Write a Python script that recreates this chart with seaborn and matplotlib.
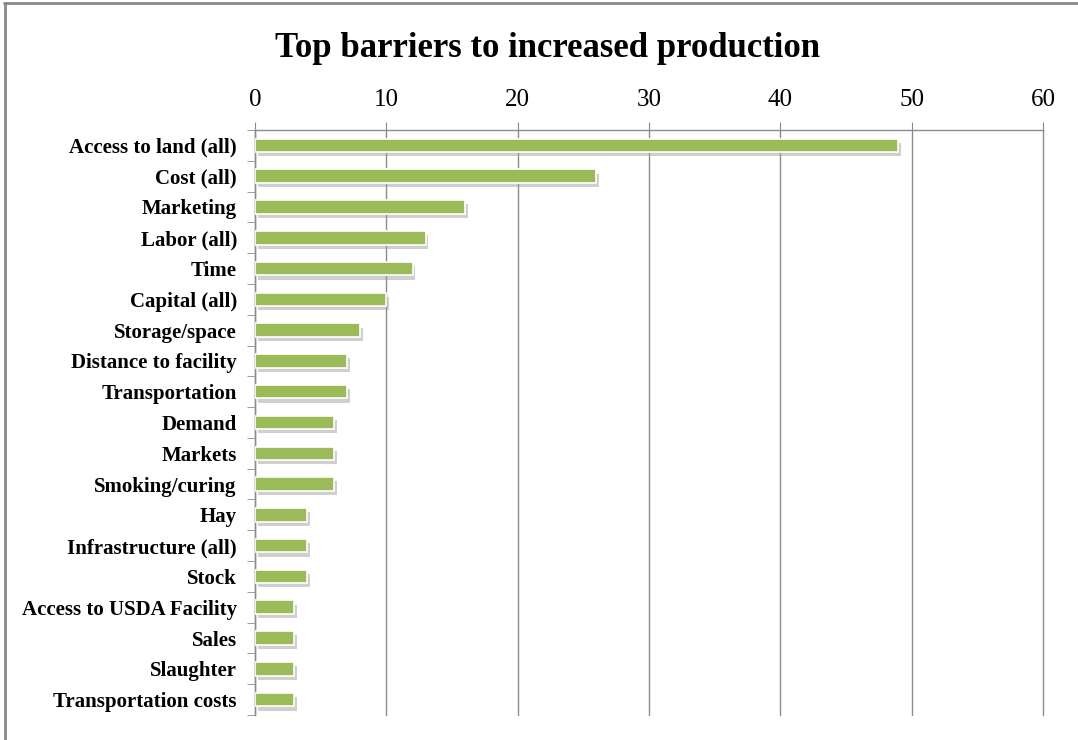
import matplotlib
matplotlib.use("Agg")
import matplotlib.pyplot as plt
import matplotlib.patheffects as pe
from matplotlib.lines import Line2D
import seaborn as sns
import pandas as pd
import numpy as np

categories = [
    "Access to land (all)", "Cost (all)", "Marketing", "Labor (all)", "Time",
    "Capital (all)", "Storage/space", "Distance to facility", "Transportation",
    "Demand", "Markets", "Smoking/curing", "Hay", "Infrastructure (all)",
    "Stock", "Access to USDA Facility", "Sales", "Slaughter",
    "Transportation costs",
]
counts = [49, 26, 16, 13, 12, 10, 8, 7, 7, 6, 6, 6, 4, 4, 4, 3, 3, 3, 3]
x_ticks = [0, 10, 20, 30, 40, 50, 60]

df = pd.DataFrame({"barrier": categories, "count": counts})

sns.set_style("white")
plt.rcParams["font.family"] = ["Liberation Serif", "DejaVu Serif"]

fig = plt.figure(figsize=(10.78, 7.40), dpi=100)
ax = fig.add_axes([0.2365, 0.0338, 0.9675 - 0.2365, 0.8243 - 0.0338])

sns.barplot(data=df, x="count", y="barrier", orient="h", color="#9BBB59",
            saturation=1, width=0.44, edgecolor="white", linewidth=1.2, ax=ax)

for bar in ax.patches:
    bar.set_path_effects([pe.SimplePatchShadow(offset=(2, -3), shadow_rgbFace="#a0a0a0", alpha=0.5),
                          pe.Normal()])
    bar.set_zorder(3)

ax.set_xlim(0, 60)
ax.set_ylim(len(categories) - 0.5, -0.5)
ax.set_xticks(x_ticks)
ax.xaxis.tick_top()
ax.xaxis.set_label_position("top")
ax.set_xlabel("")
ax.set_ylabel("")

ax.grid(axis="x", color="#8c8c8c", linewidth=1.0)
for gl in ax.get_xgridlines():
    gl.set_clip_on(False)
ax.set_axisbelow(True)
for side in ["right", "bottom"]:
    ax.spines[side].set_visible(False)
ax.spines["top"].set_color("#8c8c8c")
ax.spines["left"].set_color("#8c8c8c")
ax.spines["top"].set_linewidth(1.0)
ax.spines["left"].set_linewidth(1.0)

ax.tick_params(axis="x", which="major", top=True, length=6, color="#8c8c8c",
               labelsize=18, pad=8, labelcolor="black")
ax.tick_params(axis="y", which="major", length=0, labelsize=15, pad=13,
               labelcolor="black")
ax.set_yticks(np.arange(-0.5, len(categories), 1.0), minor=True)
ax.tick_params(axis="y", which="minor", left=True, length=6, color="#8c8c8c")
for lab in ax.get_yticklabels():
    lab.set_fontweight("bold")

fig.text(0.508, 0.935, "Top barriers to increased production", ha="center",
         va="center", fontsize=25, fontweight="bold", color="black")

# thin grey frame on top and left edges of the figure
fig.add_artist(Line2D([0.004, 1.0], [0.9965, 0.9965], transform=fig.transFigure,
                      color="#8a8a8a", linewidth=2))
fig.add_artist(Line2D([0.0045, 0.0045], [0.0, 0.9965], transform=fig.transFigure,
                      color="#8a8a8a", linewidth=2))

fig.savefig("out.png", dpi=100)
